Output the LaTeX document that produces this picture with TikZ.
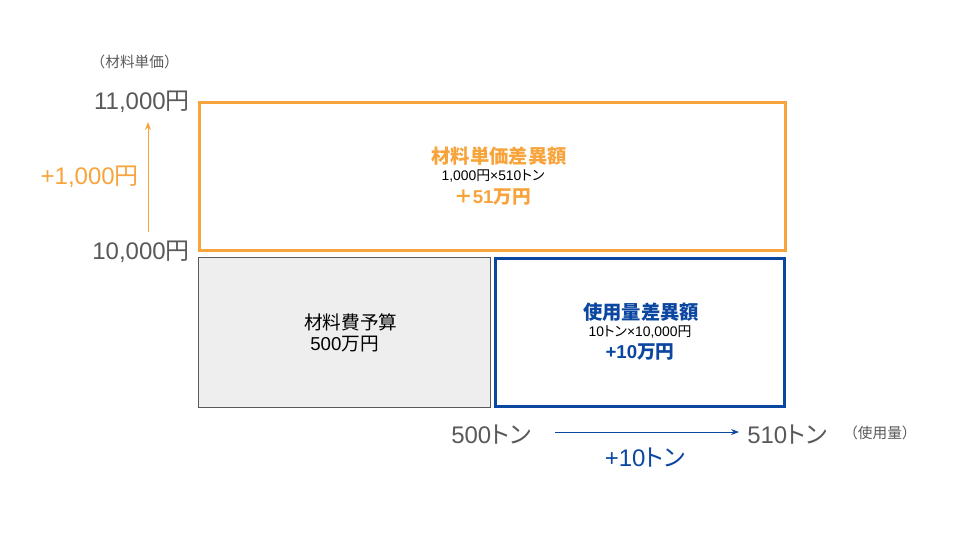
\documentclass[tikz,border=0pt]{standalone}
\usepackage{fontspec}
\setmainfont{Liberation Sans}
\newfontfamily\cjk{Noto Sans CJK JP}
\newfontfamily\cjkp{Noto Sans CJK JP}[RawFeature=+palt]
\usetikzlibrary{arrows.meta}
\definecolor{org}{HTML}{F8A43C}
\definecolor{dblue}{HTML}{0B47A1}
\definecolor{gtext}{HTML}{595959}
\definecolor{gfill}{HTML}{EEEEEE}
\newcommand\J[1]{{\cjk #1}}
\newcommand\K[1]{{\cjkp #1}}
\tikzset{
  box/.style={draw, inner sep=0pt},
  axislbl/.style={text=gtext, font=\fontsize{18}{20}\selectfont, inner sep=0pt},
  unitlbl/.style={text=gtext, font=\fontsize{11}{13}\selectfont, inner sep=0pt},
  ttl/.style={font=\fontsize{14.5}{16}\selectfont\bfseries, inner sep=0pt},
  amt/.style={font=\fontsize{14}{16}\selectfont\bfseries, inner sep=0pt},
  sub/.style={font=\fontsize{10.4}{12}\selectfont, inner sep=0pt},
  bud/.style={font=\fontsize{14}{16}\selectfont, inner sep=0pt, anchor=west},
}
\begin{document}
\begin{tikzpicture}[x=0.75pt,y=-0.75pt]
\useasboundingbox (0,0) rectangle (960,540);
% boxes
\node[box, draw=org, line width=2.25pt, minimum width=586*0.75pt, minimum height=148*0.75pt] (price) at (492.5,176.5) {};
\node[box, draw=gtext, fill=gfill, line width=0.75pt, minimum width=292*0.75pt, minimum height=150*0.75pt] (budget) at (344.5,332.5) {};
\node[box, draw=dblue, line width=2.25pt, minimum width=289*0.75pt, minimum height=148*0.75pt] (qty) at (640,332.5) {};
% price box text
\node[ttl, text=org] (pt1) at (499,156) {\J{材料単価差異額}};
\node[sub] (pt2) at (493,176) {1,000\J{円}×510\K{トン}};
\node[amt, text=org] (pt3) at (492.5,197) {\J{＋}51\J{万円}};
% budget text
\node[bud] (bt1) at (304,322) {\J{材料費予算}};
\node[bud] (bt2) at (310,344) {500\J{万円}};
% qty box text
\node[ttl, text=dblue] (qt1) at (641,312) {\J{使用量差異額}};
\node[sub] (qt2) at (640,332) {10\K{トン}×10,000\J{円}};
\node[amt, text=dblue] (qt3) at (640,352) {+10\J{万円}};
% axis labels
\node[unitlbl, anchor=east] (yunit) at (179,62) {\J{（材料単価）}};
\node[axislbl, anchor=east] (y11) at (190,102) {11,000\J{円}};
\node[axislbl, anchor=east] (y10) at (190,252) {10,000\J{円}};
\node[axislbl, text=org, anchor=east] (ydiff) at (139,177) {+1,000\J{円}};
\node[axislbl, anchor=west] (x500) at (451,435) {500\K{トン}};
\node[axislbl, anchor=west] (x510) at (747,435) {510\K{トン}};
\node[unitlbl, anchor=west] (xunit) at (843,433) {\J{（使用量）}};
\node[axislbl, text=dblue] (xdiff) at (645,458) {+10\K{トン}};
% arrows
\coordinate (ya) at (148,232);
\coordinate (yb) at (148,122);
\draw[org, line width=0.75pt, -{Stealth[length=6pt,width=4.5pt]}] (ya) -- (yb);
\coordinate (xa) at (555,432);
\coordinate (xb) at (739,432);
\draw[dblue, line width=0.75pt, -{Stealth[length=6pt,width=4.5pt]}] (xa) -- (xb);
\end{tikzpicture}
\end{document}
